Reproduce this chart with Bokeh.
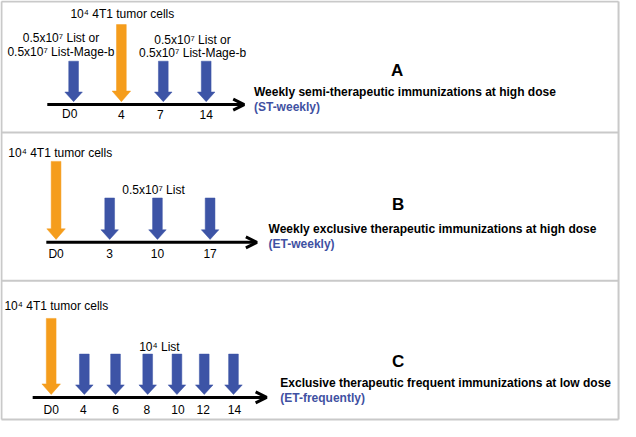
from bokeh.plotting import figure
from bokeh.models import Range1d, Arrow, OpenHead
from bokeh.core.properties import value
from bokeh.embed import file_html
from bokeh.resources import INLINE

# ---------------- data ----------------
panel_letters = ["A", "B", "C"]
panel_titles = [
    "Weekly semi-therapeutic immunizations at high dose",
    "Weekly exclusive therapeutic immunizations at high dose",
    "Exclusive therapeutic frequent immunizations at low dose",
]
panel_codes = ["(ST-weekly)", "(ET-weekly)", "(ET-frequently)"]

days_A = ["D0", "4", "7", "14"]
vaccine_A = ["D0", "7", "14"]
tumor_A = "4"
dose_A_left = ["0.5x10\u2077 List or", "0.5x10\u2077 List-Mage-b"]
dose_A_right = ["0.5x10\u2077 List or", "0.5x10\u2077 List-Mage-b"]

days_B = ["D0", "3", "10", "17"]
vaccine_B = ["3", "10", "17"]
tumor_B = "D0"
dose_B = ["0.5x10\u2077 List"]

days_C = ["D0", "4", "6", "8", "10", "12", "14"]
vaccine_C = ["4", "6", "8", "10", "12", "14"]
tumor_C = "D0"
dose_C = ["10\u2074 List"]

tumor_text = "10\u2074 4T1 tumor cells"

# ---------------- layout (reference pixel space) ----------------
W, H = 636, 437
BLUE = "#3d54a6"
ORANGE = "#f59d1c"
TXT_BLUE = "#3f51a2"
GRAY = "#c9c9c9"
FONT = "Liberation Sans"

layout = {
    "A": dict(x={"D0": 75, "4": 124, "7": 167, "14": 211}, axis_y=108, line_x=(48, 250),
              label_y=118, tumor_top=25, vacc_top=63, letter=(407, 73), title=(260, 95)),
    "B": dict(x={"D0": 57, "3": 112, "10": 161, "17": 215}, axis_y=251, line_x=(47, 263),
              label_y=263, tumor_top=167, vacc_top=205, letter=(408, 212), title=(275, 237)),
    "C": dict(x={"D0": 52, "4": 86, "6": 118, "8": 151, "10": 181, "12": 209, "14": 239},
              axis_y=412, line_x=(33, 273), label_y=425, tumor_top=330, vacc_top=367,
              letter=(408, 375), title=(287, 397)),
}
label_x = {"A": {"D0": 71, "4": 124, "7": 164, "14": 211},
           "C": {"D0": 52, "4": 85, "6": 118, "8": 150, "10": 182, "12": 208, "14": 240}}

panels = {
    "A": dict(days=days_A, vacc=vaccine_A, tumor=tumor_A),
    "B": dict(days=days_B, vacc=vaccine_B, tumor=tumor_B),
    "C": dict(days=days_C, vacc=vaccine_C, tumor=tumor_C),
}

p = figure(width=620, height=421, x_range=Range1d(0, W), y_range=Range1d(H, 0),
           output_backend="svg", toolbar_location=None, min_border=0,
           x_axis_type=None, y_axis_type=None)
p.grid.visible = False
p.outline_line_color = None
p.background_fill_color = "white"


def block_arrow(cx, top, tip, sw=10, hw=18, hh=10):
    xs = [cx - sw / 2, cx + sw / 2, cx + sw / 2, cx + hw / 2, cx, cx - hw / 2, cx - sw / 2]
    ys = [top, top, tip - hh, tip - hh, tip, tip - hh, tip - hh]
    return xs, ys


# borders
p.segment(x0=[1, 1, 634, 1, 1, 1], y0=[1, 1, 1, 435, 137, 291],
          x1=[634, 1, 634, 634, 634, 634], y1=[1, 435, 435, 435, 137, 291],
          line_color=GRAY, line_width=2)

for i, key in enumerate(panel_letters):
    L = layout[key]
    d = panels[key]
    ay = L["axis_y"]
    # timeline
    p.add_layout(Arrow(end=OpenHead(line_width=3, size=11, line_color="black"),
                       x_start=L["line_x"][0], y_start=ay, x_end=L["line_x"][1], y_end=ay,
                       line_width=3, line_color="black"))
    # vaccination arrows
    bxs, bys = [], []
    for dd in d["vacc"]:
        xs, ys = block_arrow(L["x"][dd], L["vacc_top"], ay - 3)
        bxs.append(xs)
        bys.append(ys)
    p.patches(bxs, bys, fill_color=BLUE, line_color=BLUE, line_width=0.5)
    # tumor arrow
    xs, ys = block_arrow(L["x"][d["tumor"]], L["tumor_top"], ay - 3, sw=10, hw=19, hh=11)
    p.patch(xs, ys, fill_color=ORANGE, line_color=ORANGE, line_width=0.5)
    # day labels
    lx = label_x.get(key, L["x"])
    p.text(x=[lx[dd] for dd in d["days"]], y=[L["label_y"]] * len(d["days"]), text=d["days"],
           text_font=value(FONT), text_font_size="12px", text_align="center",
           text_baseline="middle", text_color="black")
    # letter
    p.text(x=[L["letter"][0]], y=[L["letter"][1]], text=[key], text_font=value(FONT),
           text_font_size="17px", text_font_style="bold", text_align="center",
           text_baseline="middle", text_color="black")
    # title and code
    p.text(x=[L["title"][0]], y=[L["title"][1]], text=[panel_titles[i]], text_font=value(FONT),
           text_font_size="12px", text_font_style="bold", text_align="left",
           text_baseline="middle", text_color="black")
    p.text(x=[L["title"][0]], y=[L["title"][1] + 16], text=[panel_codes[i]], text_font=value(FONT),
           text_font_size="12px", text_font_style="bold", text_align="left",
           text_baseline="middle", text_color=TXT_BLUE)

# annotations (dose / tumor texts)
p.text(x=[125], y=[14], text=[tumor_text], text_font=value(FONT), text_font_size="12px",
       text_align="center", text_baseline="middle", text_color="black")
p.text(x=[62, 62], y=[39, 53], text=dose_A_left, text_font=value(FONT), text_font_size="12px",
       text_align="center", text_baseline="middle", text_color="black")
p.text(x=[197, 197], y=[41, 55], text=dose_A_right, text_font=value(FONT), text_font_size="12px",
       text_align="center", text_baseline="middle", text_color="black")
p.text(x=[8], y=[158], text=[tumor_text], text_font=value(FONT), text_font_size="12px",
       text_align="left", text_baseline="middle", text_color="black")
p.text(x=[157], y=[197], text=dose_B, text_font=value(FONT), text_font_size="12px",
       text_align="center", text_baseline="middle", text_color="black")
p.text(x=[4], y=[317], text=[tumor_text], text_font=value(FONT), text_font_size="12px",
       text_align="left", text_baseline="middle", text_color="black")
p.text(x=[163], y=[360], text=dose_C, text_font=value(FONT), text_font_size="12px",
       text_align="center", text_baseline="middle", text_color="black")

open("out.html", "w").write(file_html(p, INLINE))
